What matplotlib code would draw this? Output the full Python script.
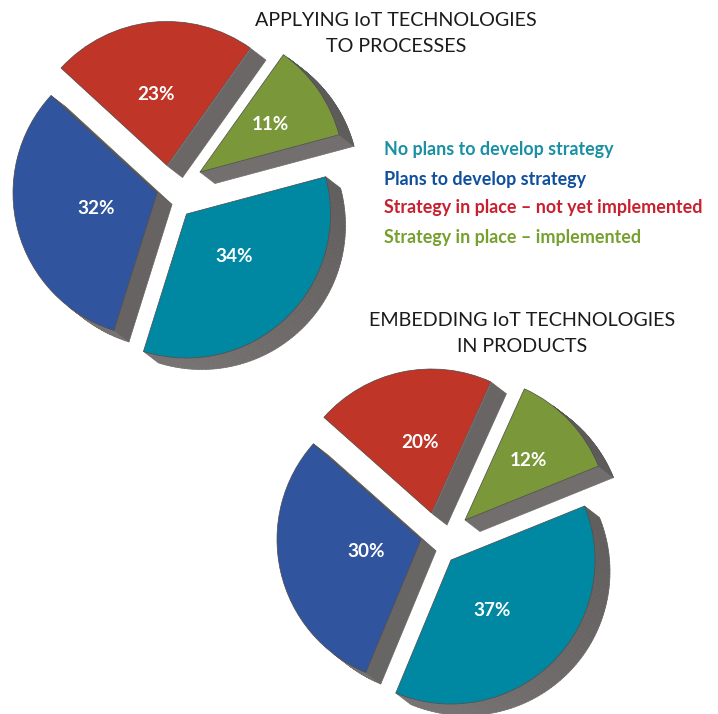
import numpy as np
import matplotlib
matplotlib.use("Agg")
import matplotlib.pyplot as plt
from matplotlib.collections import PolyCollection
from matplotlib.colors import to_rgb

WIDTH, HEIGHT = 718, 714

legend_labels = [
    "No plans to develop strategy",
    "Plans to develop strategy",
    "Strategy in place \u2013 not yet implemented",
    "Strategy in place \u2013 implemented",
]
process_values = [34, 32, 23, 11]
product_values = [37, 30, 20, 12]

wedge_colors = ["#0088a3", "#30559e", "#bf3527", "#7a983a"]
legend_colors = ["#1a90a5", "#0f4f9e", "#c8202f", "#76a02f"]

RADIUS = 144
DEPTH = (15, -11.5)


def shade(normal):
    # faces turned downward catch more light than the ones turned right
    angle = np.degrees(np.arctan2(normal[1], normal[0]))
    t = np.clip((angle + 90) / 120, 0, 1)
    light = np.array(to_rgb("#777272"))
    dark = np.array(to_rgb("#5d5a5a"))
    return tuple(light + (dark - light) * t)


def draw_depth(ax, wedge):
    cx, cy = wedge.center
    theta = np.radians(np.linspace(wedge.theta1, wedge.theta2, 90))
    arc = np.column_stack([cx + RADIUS * np.cos(theta), cy + RADIUS * np.sin(theta)])
    outline = np.vstack([[cx, cy], arc, [cx, cy]])
    offset = np.array(DEPTH)

    quads, colors = [], []
    for a, b in zip(outline[:-1], outline[1:]):
        dx, dy = b - a
        normal = np.array([dy, -dx])
        if normal @ offset <= 0:
            continue
        quads.append([a, b, b + offset, a + offset])
        colors.append(shade(normal))
    ax.add_collection(
        PolyCollection(quads, facecolors=colors, edgecolors=colors, linewidths=0.5, zorder=1)
    )


def draw_pie(ax, values, start, apexes, label_positions):
    wedges, _ = ax.pie(
        values,
        colors=wedge_colors,
        startangle=start,
        counterclock=False,
        radius=RADIUS,
        wedgeprops={"edgecolor": "#4c4a4a", "linewidth": 0.5, "zorder": 2},
    )
    for wedge, (px, py) in zip(wedges, apexes):
        wedge.set_center((px, HEIGHT - py))
        draw_depth(ax, wedge)
    for value, (px, py) in zip(values, label_positions):
        ax.text(px, HEIGHT - py, f"{value}%", color="white", fontsize=13.6, fontweight="bold",
                ha="center", va="center", zorder=3)


plt.rcParams["font.family"] = ["Lato", "DejaVu Sans"]

fig = plt.figure(figsize=(WIDTH / 100, HEIGHT / 100), dpi=100, facecolor="white")
ax = fig.add_axes([0, 0, 1, 1])

draw_pie(ax, process_values, 15,
         [(186.5, 214), (157, 193), (167, 165.5), (200, 172)],
         [(234, 256.5), (96, 209), (156, 94.5), (270, 125)])
draw_pie(ax, product_values, 22,
         [(451, 560), (421, 539.5), (431.5, 513), (465, 520)],
         [(492, 611), (366, 551.5), (420, 442.5), (528, 460.5)])

ax.set_xlim(0, WIDTH)
ax.set_ylim(0, HEIGHT)
ax.set_aspect("auto")
ax.axis("off")

ax.text(396, HEIGHT - 33.5, "APPLYING IoT TECHNOLOGIES\nTO PROCESSES", color="#1c1a1a",
        fontsize=14.25, ha="center", va="center", linespacing=1.62, zorder=3)
ax.text(522, HEIGHT - 333.5, "EMBEDDING IoT TECHNOLOGIES\nIN PRODUCTS", color="#1c1a1a",
        fontsize=14.25, ha="center", va="center", linespacing=1.62, zorder=3)

for label, color, y in zip(legend_labels, legend_colors, [149, 179, 208, 238]):
    ax.text(384, HEIGHT - y, label, color=color, fontsize=12.9, fontweight="bold",
            ha="left", va="center", zorder=3)

fig.savefig("out.png", dpi=100, facecolor="white")
